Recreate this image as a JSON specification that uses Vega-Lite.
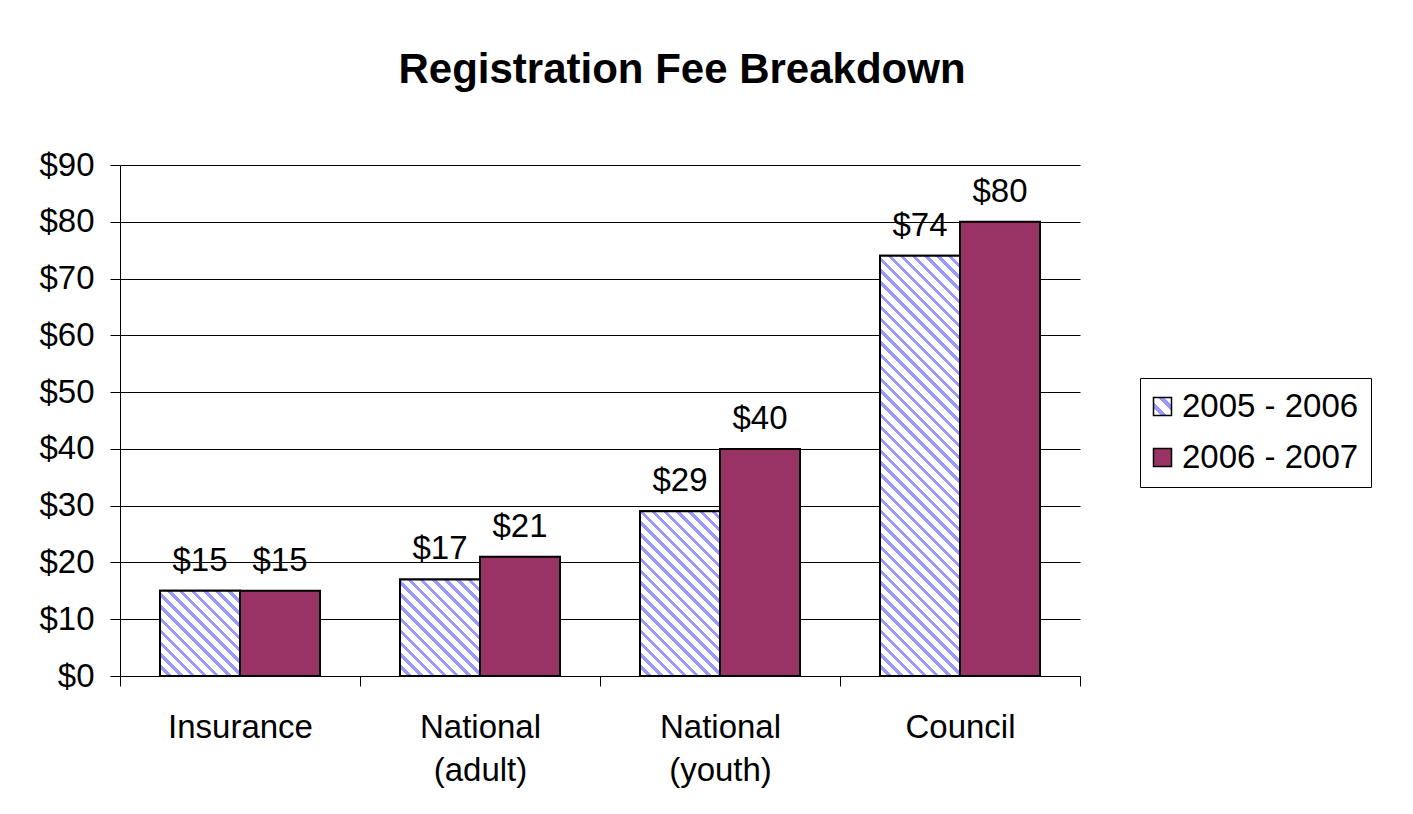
{
  "$schema": "https://vega.github.io/schema/vega-lite/v6.json",
  "width": 960,
  "height": 511,
  "autosize": "none",
  "padding": {"left": 120, "top": 165, "right": 333, "bottom": 138},
  "background": "white",
  "title": {"text": "Registration Fee Breakdown", "fontSize": 42, "fontWeight": "bold", "font": "Liberation Sans", "color": "black", "anchor": "middle", "frame": "group", "dx": 82, "offset": 57},
  "params": [
    {"name": "hatch", "value": [
      {"offset":0,"color":"#fff"},{"offset":0.014535,"color":"#fff"},{"offset":0.014535,"color":"#99f"},{"offset":0.023256,"color":"#99f"},
      {"offset":0.023256,"color":"#fff"},{"offset":0.037791,"color":"#fff"},{"offset":0.037791,"color":"#99f"},{"offset":0.046512,"color":"#99f"},
      {"offset":0.046512,"color":"#fff"},{"offset":0.061047,"color":"#fff"},{"offset":0.061047,"color":"#99f"},{"offset":0.069767,"color":"#99f"},
      {"offset":0.069767,"color":"#fff"},{"offset":0.084302,"color":"#fff"},{"offset":0.084302,"color":"#99f"},{"offset":0.093023,"color":"#99f"},
      {"offset":0.093023,"color":"#fff"},{"offset":0.107558,"color":"#fff"},{"offset":0.107558,"color":"#99f"},{"offset":0.116279,"color":"#99f"},
      {"offset":0.116279,"color":"#fff"},{"offset":0.130814,"color":"#fff"},{"offset":0.130814,"color":"#99f"},{"offset":0.139535,"color":"#99f"},
      {"offset":0.139535,"color":"#fff"},{"offset":0.15407,"color":"#fff"},{"offset":0.15407,"color":"#99f"},{"offset":0.162791,"color":"#99f"},
      {"offset":0.162791,"color":"#fff"},{"offset":0.177326,"color":"#fff"},{"offset":0.177326,"color":"#99f"},{"offset":0.186047,"color":"#99f"},
      {"offset":0.186047,"color":"#fff"},{"offset":0.200582,"color":"#fff"},{"offset":0.200582,"color":"#99f"},{"offset":0.209302,"color":"#99f"},
      {"offset":0.209302,"color":"#fff"},{"offset":0.223837,"color":"#fff"},{"offset":0.223837,"color":"#99f"},{"offset":0.232558,"color":"#99f"},
      {"offset":0.232558,"color":"#fff"},{"offset":0.247093,"color":"#fff"},{"offset":0.247093,"color":"#99f"},{"offset":0.255814,"color":"#99f"},
      {"offset":0.255814,"color":"#fff"},{"offset":0.270349,"color":"#fff"},{"offset":0.270349,"color":"#99f"},{"offset":0.27907,"color":"#99f"},
      {"offset":0.27907,"color":"#fff"},{"offset":0.293605,"color":"#fff"},{"offset":0.293605,"color":"#99f"},{"offset":0.302326,"color":"#99f"},
      {"offset":0.302326,"color":"#fff"},{"offset":0.316861,"color":"#fff"},{"offset":0.316861,"color":"#99f"},{"offset":0.325581,"color":"#99f"},
      {"offset":0.325581,"color":"#fff"},{"offset":0.340116,"color":"#fff"},{"offset":0.340116,"color":"#99f"},{"offset":0.348837,"color":"#99f"},
      {"offset":0.348837,"color":"#fff"},{"offset":0.363372,"color":"#fff"},{"offset":0.363372,"color":"#99f"},{"offset":0.372093,"color":"#99f"},
      {"offset":0.372093,"color":"#fff"},{"offset":0.386628,"color":"#fff"},{"offset":0.386628,"color":"#99f"},{"offset":0.395349,"color":"#99f"},
      {"offset":0.395349,"color":"#fff"},{"offset":0.409884,"color":"#fff"},{"offset":0.409884,"color":"#99f"},{"offset":0.418605,"color":"#99f"},
      {"offset":0.418605,"color":"#fff"},{"offset":0.43314,"color":"#fff"},{"offset":0.43314,"color":"#99f"},{"offset":0.44186,"color":"#99f"},
      {"offset":0.44186,"color":"#fff"},{"offset":0.456395,"color":"#fff"},{"offset":0.456395,"color":"#99f"},{"offset":0.465116,"color":"#99f"},
      {"offset":0.465116,"color":"#fff"},{"offset":0.479651,"color":"#fff"},{"offset":0.479651,"color":"#99f"},{"offset":0.488372,"color":"#99f"},
      {"offset":0.488372,"color":"#fff"},{"offset":0.502907,"color":"#fff"},{"offset":0.502907,"color":"#99f"},{"offset":0.511628,"color":"#99f"},
      {"offset":0.511628,"color":"#fff"},{"offset":0.526163,"color":"#fff"},{"offset":0.526163,"color":"#99f"},{"offset":0.534884,"color":"#99f"},
      {"offset":0.534884,"color":"#fff"},{"offset":0.549419,"color":"#fff"},{"offset":0.549419,"color":"#99f"},{"offset":0.55814,"color":"#99f"},
      {"offset":0.55814,"color":"#fff"},{"offset":0.572675,"color":"#fff"},{"offset":0.572675,"color":"#99f"},{"offset":0.581395,"color":"#99f"},
      {"offset":0.581395,"color":"#fff"},{"offset":0.59593,"color":"#fff"},{"offset":0.59593,"color":"#99f"},{"offset":0.604651,"color":"#99f"},
      {"offset":0.604651,"color":"#fff"},{"offset":0.619186,"color":"#fff"},{"offset":0.619186,"color":"#99f"},{"offset":0.627907,"color":"#99f"},
      {"offset":0.627907,"color":"#fff"},{"offset":0.642442,"color":"#fff"},{"offset":0.642442,"color":"#99f"},{"offset":0.651163,"color":"#99f"},
      {"offset":0.651163,"color":"#fff"},{"offset":0.665698,"color":"#fff"},{"offset":0.665698,"color":"#99f"},{"offset":0.674419,"color":"#99f"},
      {"offset":0.674419,"color":"#fff"},{"offset":0.688954,"color":"#fff"},{"offset":0.688954,"color":"#99f"},{"offset":0.697674,"color":"#99f"},
      {"offset":0.697674,"color":"#fff"},{"offset":0.712209,"color":"#fff"},{"offset":0.712209,"color":"#99f"},{"offset":0.72093,"color":"#99f"},
      {"offset":0.72093,"color":"#fff"},{"offset":0.735465,"color":"#fff"},{"offset":0.735465,"color":"#99f"},{"offset":0.744186,"color":"#99f"},
      {"offset":0.744186,"color":"#fff"},{"offset":0.758721,"color":"#fff"},{"offset":0.758721,"color":"#99f"},{"offset":0.767442,"color":"#99f"},
      {"offset":0.767442,"color":"#fff"},{"offset":0.781977,"color":"#fff"},{"offset":0.781977,"color":"#99f"},{"offset":0.790698,"color":"#99f"},
      {"offset":0.790698,"color":"#fff"},{"offset":0.805233,"color":"#fff"},{"offset":0.805233,"color":"#99f"},{"offset":0.813953,"color":"#99f"},
      {"offset":0.813953,"color":"#fff"},{"offset":0.828488,"color":"#fff"},{"offset":0.828488,"color":"#99f"},{"offset":0.837209,"color":"#99f"},
      {"offset":0.837209,"color":"#fff"},{"offset":0.851744,"color":"#fff"},{"offset":0.851744,"color":"#99f"},{"offset":0.860465,"color":"#99f"},
      {"offset":0.860465,"color":"#fff"},{"offset":0.875,"color":"#fff"},{"offset":0.875,"color":"#99f"},{"offset":0.883721,"color":"#99f"},
      {"offset":0.883721,"color":"#fff"},{"offset":0.898256,"color":"#fff"},{"offset":0.898256,"color":"#99f"},{"offset":0.906977,"color":"#99f"},
      {"offset":0.906977,"color":"#fff"},{"offset":0.921512,"color":"#fff"},{"offset":0.921512,"color":"#99f"},{"offset":0.930233,"color":"#99f"},
      {"offset":0.930233,"color":"#fff"},{"offset":0.944768,"color":"#fff"},{"offset":0.944768,"color":"#99f"},{"offset":0.953488,"color":"#99f"},
      {"offset":0.953488,"color":"#fff"},{"offset":0.968023,"color":"#fff"},{"offset":0.968023,"color":"#99f"},{"offset":0.976744,"color":"#99f"},
      {"offset":0.976744,"color":"#fff"},{"offset":0.991279,"color":"#fff"},{"offset":0.991279,"color":"#99f"},{"offset":1,"color":"#99f"}
    ]},
    {"name": "legendHatch", "value": [
      {"offset":0,"color":"#fff"},{"offset":0.2,"color":"#fff"},{"offset":0.2,"color":"#99f"},{"offset":0.38,"color":"#99f"},
      {"offset":0.38,"color":"#fff"},{"offset":0.62,"color":"#fff"},{"offset":0.62,"color":"#99f"},{"offset":0.8,"color":"#99f"},
      {"offset":0.8,"color":"#fff"},{"offset":1,"color":"#fff"}
    ]}
  ],
  "data": {"values": [
    {"category": "Insurance", "period": "2005 - 2006", "fee": 15},
    {"category": "Insurance", "period": "2006 - 2007", "fee": 15},
    {"category": "National (adult)", "period": "2005 - 2006", "fee": 17},
    {"category": "National (adult)", "period": "2006 - 2007", "fee": 21},
    {"category": "National (youth)", "period": "2005 - 2006", "fee": 29},
    {"category": "National (youth)", "period": "2006 - 2007", "fee": 40},
    {"category": "Council", "period": "2005 - 2006", "fee": 74},
    {"category": "Council", "period": "2006 - 2007", "fee": 80}
  ]},
  "encoding": {
    "x": {"field": "category", "type": "nominal", "sort": null,
      "scale": {"domain": ["Insurance", "National (adult)", "National (youth)", "Council"], "paddingInner": 0, "paddingOuter": 0},
      "axis": {"title": null, "labelExpr": "split(datum.label, ' ')", "labelAngle": 0, "labelFontSize": 33, "labelFont": "Liberation Sans", "labelColor": "black", "labelLineHeight": 43, "labelPadding": 25, "labelLimit": 400, "tickSize": 10, "tickBand": "extent", "tickColor": "black", "domainColor": "black", "grid": false}},
    "xOffset": {"field": "period", "type": "nominal", "scale": {"domain": ["2005 - 2006", "2006 - 2007"], "paddingInner": 0, "paddingOuter": 0.5}},
    "y": {"field": "fee", "type": "quantitative",
      "scale": {"domain": [0, 90], "nice": false},
      "axis": {"title": null, "values": [0, 10, 20, 30, 40, 50, 60, 70, 80, 90], "format": "$.0f", "labelFontSize": 33, "labelFont": "Liberation Sans", "labelColor": "black", "labelPadding": 16, "tickSize": 10, "tickColor": "black", "domainColor": "black", "gridColor": "black", "gridWidth": 1, "gridOpacity": 1}}
  },
  "layer": [
    {
      "mark": {"type": "bar", "stroke": "black", "strokeWidth": 2},
      "encoding": {
        "fill": {"field": "period", "type": "nominal",
          "scale": {"domain": ["2005 - 2006", "2006 - 2007"], "range": [
            {"expr": "{gradient: 'linear', x1: 0, y1: 1, x2: 1, y2: 0, stops: legendHatch}"},
            "#993366"]},
          "legend": {"orient": "none", "legendX": 1020, "legendY": 213, "title": null, "symbolType": "square", "symbolSize": 324, "symbolStrokeColor": "black", "symbolStrokeWidth": 1.5, "symbolOffset": -6, "symbolOpacity": 1, "labelFontSize": 33, "labelFont": "Liberation Sans", "labelColor": "black", "labelOffset": 3, "labelLimit": 400, "rowPadding": 17, "padding": 12, "strokeColor": "black", "fillColor": "white", "cornerRadius": 0}}
      }
    },
    {
      "transform": [{"filter": "datum.period == '2005 - 2006'"}],
      "mark": {"type": "bar", "stroke": "black", "strokeWidth": 2,
        "fill": {"expr": "{gradient: 'linear', x1: 0, y1: 1, x2: 80 * 516 / (6400 + pow(scale('y', 0) - scale('y', datum.fee), 2)), y2: 1 - (scale('y', 0) - scale('y', datum.fee)) * 516 / (6400 + pow(scale('y', 0) - scale('y', datum.fee), 2)), stops: hatch}"}}
    },
    {
      "mark": {"type": "text", "dy": -20, "baseline": "alphabetic", "fontSize": 33, "font": "Liberation Sans", "color": "black"},
      "encoding": {"text": {"field": "fee", "type": "quantitative", "format": "$.0f"}}
    }
  ],
  "config": {"view": {"stroke": null}, "font": "Liberation Sans"}
}
